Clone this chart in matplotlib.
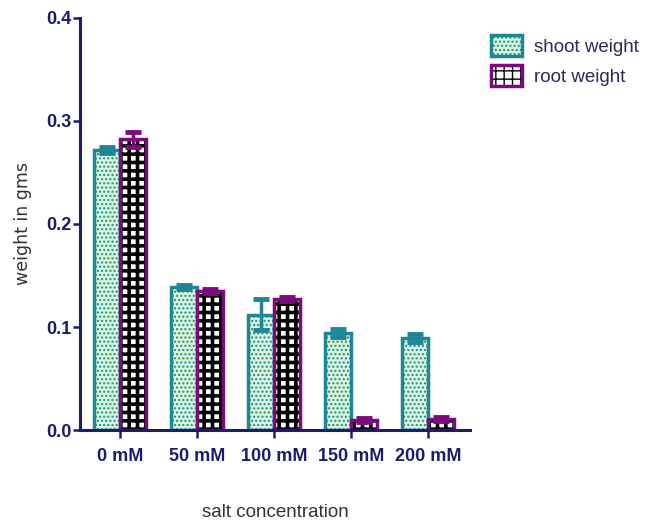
import numpy as np
import matplotlib
matplotlib.use("Agg")
import matplotlib.pyplot as plt
from matplotlib.patches import Patch

plt.rcParams['font.family'] = ['Liberation Sans', 'DejaVu Sans']

# -----------------------------
# data
# -----------------------------
categories = ["0 mM", "50 mM", "100 mM", "150 mM", "200 mM"]
shoot_weight = [0.272, 0.139, 0.112, 0.094, 0.089]
shoot_err = [0.003, 0.002, 0.015, 0.004, 0.004]
root_weight = [0.282, 0.135, 0.127, 0.010, 0.011]
root_err = [0.007, 0.002, 0.002, 0.002, 0.002]

navy = "#1c1c6e"
teal = "#1d8796"
purple = "#7d0a7d"
shoot_fill = "#d9f7d6"

fig = plt.figure(figsize=(6.56, 5.27), dpi=100)
ax = fig.add_axes([0.122, 0.184, 0.595, 0.782])

x = np.arange(len(categories))
w = 0.34

# shoot weight bars
plt.rcParams['hatch.color'] = "#5fa85f"
plt.rcParams['hatch.linewidth'] = 1.0
b1 = ax.bar(x - w / 2, shoot_weight, w, color=shoot_fill, edgecolor=teal,
            linewidth=2.5, hatch="....", zorder=2)
ax.errorbar(x - w / 2, shoot_weight, yerr=shoot_err, fmt="none",
            ecolor=teal, elinewidth=2.5, capsize=6, capthick=3.5, zorder=3)

# root weight bars (checker pattern)
b2 = ax.bar(x + w / 2, root_weight, w, color="white", edgecolor=purple,
            linewidth=2.5, zorder=2)
for r in b2:
    r.set_hatch("++")
    r._hatch_color = (0, 0, 0, 1)
    r.set_hatch_linewidth(2.6)
ax.errorbar(x + w / 2, root_weight, yerr=root_err, fmt="none",
            ecolor=purple, elinewidth=2.5, capsize=6, capthick=3.5, zorder=3)

# -----------------------------
# axis
# -----------------------------
ax.set_xlim(-0.52, 4.55)
ax.set_ylim(0, 0.4)
ax.set_yticks([0.0, 0.1, 0.2, 0.3, 0.4])
ax.set_yticklabels(["0.0", "0.1", "0.2", "0.3", "0.4"])
ax.set_xticks(x)
ax.set_xticklabels(categories)

for lab in ax.get_xticklabels() + ax.get_yticklabels():
    lab.set_fontweight("bold")
    lab.set_color(navy)
    lab.set_fontsize(13)

ax.tick_params(axis="both", direction="out", color=navy, width=1.8, length=6)
ax.tick_params(axis="x", pad=7)
ax.tick_params(axis="y", pad=1, length=5)

for s in ["top", "right"]:
    ax.spines[s].set_visible(False)
for s in ["left", "bottom"]:
    ax.spines[s].set_color(navy)
    ax.spines[s].set_linewidth(2.2)

ax.set_ylabel("weight in gms", fontsize=12.5, color="#333333",
              family=["DejaVu Sans"], labelpad=10)
ax.set_xlabel("salt concentration", fontsize=13.5, color="#333333", labelpad=28)

# -----------------------------
# legend
# -----------------------------
h1 = Patch(facecolor=shoot_fill, edgecolor=teal, linewidth=2.5, hatch="....")
h2 = Patch(facecolor="white", edgecolor=purple, linewidth=2.5, hatch="++")
h2._hatch_color = (0, 0, 0, 1)
fig.legend([h1, h2], ["shoot weight", "root weight"], loc="upper left",
           bbox_to_anchor=(0.722, 0.965), frameon=False, fontsize=13.5,
           handlelength=1.7, handleheight=1.3, labelcolor="#2a2a5a",
           labelspacing=0.5, handletextpad=0.6)

plt.savefig("out.png", dpi=100)
